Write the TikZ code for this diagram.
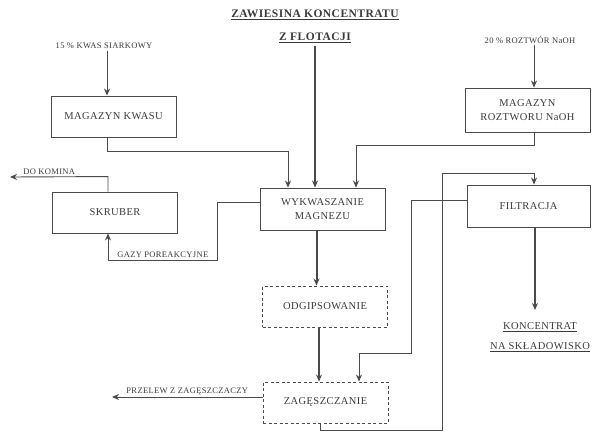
\documentclass[tikz,border=0pt]{standalone}
\usepackage{fontspec}
\setmainfont{Liberation Serif}[LetterSpace=4]
\usepackage{xcolor}
\usepackage{tikz}
\usetikzlibrary{arrows.meta,positioning}

\definecolor{linegray}{HTML}{4A4A4A}
\definecolor{textgray}{HTML}{3A3A3A}

\begin{document}
\begin{tikzpicture}[
                x=1pt, y=-1pt,
                font=\fontsize{10.5}{14}\selectfont,
                box/.style={draw=linegray, line width=0.9pt, align=center, text=textgray, minimum width=125pt, minimum height=41pt},
                dbox/.style={box, dash pattern=on 3pt off 2.5pt},
                lbl/.style={font=\fontsize{8.5}{10}\selectfont, text=textgray, inner sep=1.5pt},
                head/.style={font=\fontsize{11.5}{14}\selectfont\bfseries, text=textgray, align=center},
                flow/.style={draw=linegray, line width=0.9pt, -{Stealth[length=7pt, width=6pt]}},
                main/.style={flow, line width=2pt}
            ]
            \useasboundingbox (0,0) rectangle (597,436);
            \node[head] (zaw) at (315,15) {\underline{ZAWIESINA KONCENTRATU}};
            \node[head] (flot) at (315,38) {\underline{Z FLOTACJI}};
            \node[lbl] (kwas) at (104,46) {15 \% KWAS SIARKOWY};
            \node[lbl] (naoh) at (530,40) {20 \% ROZTWÓR NaOH};
            \node[box] (mkwas) at (113.5,116.5) {MAGAZYN KWASU};
            \node[box, minimum height=44pt] (mnaoh) at (527.5,110) {MAGAZYN\\ROZTWORU NaOH};
            \node[box, minimum height=42pt] (wyk) at (322.5,209) {WYKWASZANIE\\MAGNEZU};
            \node[box] (skr) at (115,212.5) {SKRUBER};
            \node[box, minimum width=123pt, minimum height=42pt] (filt) at (528.5,206) {FILTRACJA};
            \node[dbox] (odg) at (325,306.5) {ODGIPSOWANIE};
            \node[dbox] (zag) at (325.5,402.5) {ZAGĘSZCZANIE};
            \node[head, font=\fontsize{10.5}{20}\selectfont] (skl) at (540,337) {\underline{KONCENTRAT}\\\underline{NA SKŁADOWISKO}};
            \coordinate (komin) at (10,177);
            \coordinate (przelew) at (112,397);
            \coordinate (sklad) at (535,310);
            \draw[flow] ([xshift=3pt]kwas.south) -- ([xshift=3pt]kwas.south |- mkwas.north);
            \draw[flow] ([xshift=4pt]naoh.south) -- ([xshift=4pt]naoh.south |- mnaoh.north);
            \draw[main] (flot.south) -- (flot.south |- wyk.north);
            \draw[flow] ([xshift=-6pt]mkwas.south) -- ++(0,13.5) -| ([xshift=-34.5pt]wyk.north);
            \draw[flow] ([xshift=6.5pt]mnaoh.south) -- ++(0,13) -| ([xshift=33.5pt]wyk.north);
            \draw[main] ([xshift=-6pt]wyk.south) -- ([xshift=-6pt]wyk.south |- odg.north);
            \draw[main] ([xshift=-6pt]odg.south) -- ([xshift=-6pt]odg.south |- zag.north);
            \draw[flow] ([yshift=7pt]wyk.west) -- ++(-42,0) -- ++(0,58)
            -| node[lbl, above, pos=0.25] {GAZY POREAKCYJNE} ([xshift=-7pt]skr.south);
            \draw[flow] ([xshift=-7pt]skr.north) -- ++(0,-15)
            -- node[lbl, above, pos=0.6] {DO KOMINA} (komin);
            \draw[flow] ([yshift=5.5pt]zag.west) -- node[lbl, above] {PRZELEW Z ZAGĘSZCZACZY} (przelew);
            \draw[flow] ([xshift=-5.5pt]zag.south) -- ++(0,7) -- ++(122,0) -- ++(0,-257)
            -| ([xshift=5.5pt]filt.north);
            \draw[flow] ([yshift=6pt]filt.west) -- ++(-55,0) -- ++(0,153)
            -| ([xshift=33.5pt]zag.north);
            \draw[main] ([xshift=6.5pt]filt.south) -- (sklad);
        \end{tikzpicture}
\end{document}
